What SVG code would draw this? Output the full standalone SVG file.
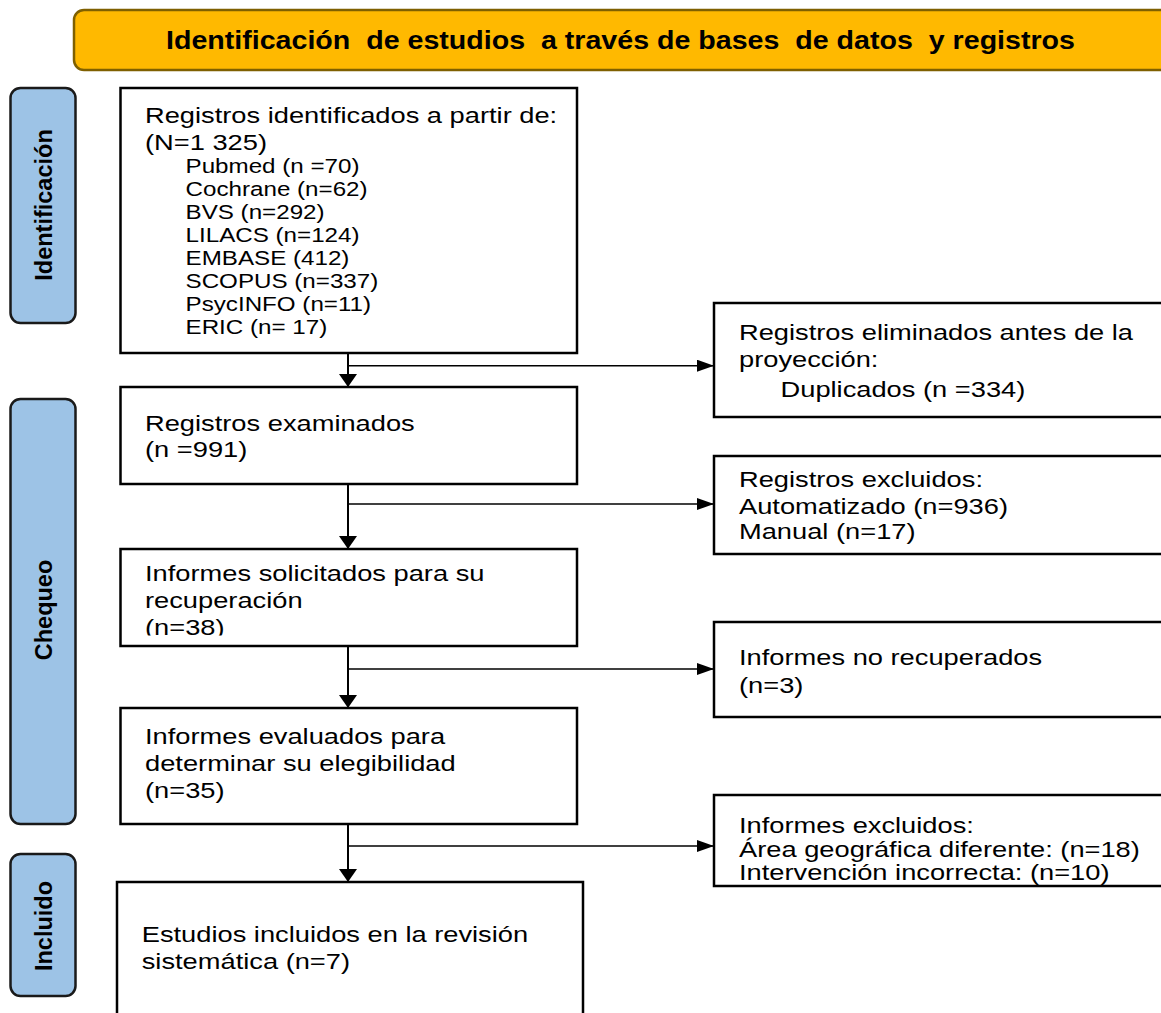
<svg xmlns="http://www.w3.org/2000/svg" width="1161" height="1013" viewBox="0 0 1161 1013">
<style>
.t{font-family:"Liberation Sans",Arial,sans-serif;font-size:22px;fill:#000}
.s{font-size:19.5px}
.lab{font-family:"Liberation Sans",Arial,sans-serif;font-weight:bold;font-size:23.5px;text-anchor:middle;fill:#000}
.hdr{font-family:"Liberation Sans",Arial,sans-serif;font-weight:bold;font-size:26px;fill:#000;white-space:pre}
.box{fill:#fff;stroke:#000;stroke-width:2.5}
.side{fill:#9DC3E6;stroke:#1a1a1a;stroke-width:2.5}
.v{fill:none;stroke:#000;stroke-width:2;marker-end:url(#ad)}
.h{fill:none;stroke:#000;stroke-width:1.6;marker-end:url(#ar)}
</style>
<defs>
<marker id="ad" markerUnits="userSpaceOnUse" markerWidth="14" markerHeight="18" refX="13" refY="9" orient="auto"><path d="M0,0 L13,9 L0,18 z" fill="#000"/></marker>
<marker id="ar" markerUnits="userSpaceOnUse" markerWidth="18" markerHeight="12" refX="17" refY="6" orient="auto"><path d="M0,0 L17,6 L0,12 z" fill="#000"/></marker>
<clipPath id="c38"><rect x="120" y="549" width="457" height="86.5"/></clipPath>
</defs>
<rect width="1161" height="1013" fill="#fff"/>

<g id="header">
<rect x="74" y="10" width="1120" height="60" rx="10" fill="#FFB900" stroke="#7F6000" stroke-width="2.5"/>
<text class="hdr" x="166" y="49.3" textLength="909" lengthAdjust="spacingAndGlyphs" xml:space="preserve">Identificación  de estudios  a través de bases  de datos  y registros</text>
</g>

<g id="lab-identificacion">
<rect class="side" x="10.5" y="88" width="65" height="235" rx="10"/>
<text class="lab" transform="translate(51.5,205) rotate(-90)">Identificación</text>
</g>
<g id="lab-chequeo">
<rect class="side" x="10.5" y="399" width="65" height="425" rx="10"/>
<text class="lab" transform="translate(51.5,610) rotate(-90)">Chequeo</text>
</g>
<g id="lab-incluido">
<rect class="side" x="10.5" y="854" width="65" height="142" rx="10"/>
<text class="lab" transform="translate(51.5,926) rotate(-90)">Incluido</text>
</g>

<g id="connectors">
<path class="v" d="M348,353 L348,387"/>
<path class="v" d="M348,484 L348,549"/>
<path class="v" d="M348,646 L348,708"/>
<path class="v" d="M348,824 L348,882"/>
<path class="h" d="M348,365.7 L714,365.7"/>
<path class="h" d="M348,504 L714,504"/>
<path class="h" d="M348,669 L714,669"/>
<path class="h" d="M348,846 L714,846"/>
</g>

<g id="n-identificados">
<rect class="box" x="120.5" y="88" width="456.5" height="265"/>
<g transform="translate(145 0) scale(1.24 1)">
<text class="t" x="0" y="123">Registros identificados a partir de:</text>
<text class="t" x="0" y="150">(N=1 325)</text>
<text class="t s" x="32.7" y="173.5">Pubmed (n =70)</text>
<text class="t s" x="32.7" y="196.5">Cochrane (n=62)</text>
<text class="t s" x="32.7" y="219.5">BVS (n=292)</text>
<text class="t s" x="32.7" y="242.5">LILACS (n=124)</text>
<text class="t s" x="32.7" y="265.5">EMBASE (412)</text>
<text class="t s" x="32.7" y="288.5">SCOPUS (n=337)</text>
<text class="t s" x="32.7" y="311.5">PsycINFO (n=11)</text>
<text class="t s" x="32.7" y="334.5">ERIC (n= 17)</text>
</g>
</g>

<g id="n-examinados">
<rect class="box" x="120.5" y="387" width="456.5" height="97"/>
<g transform="translate(145 0) scale(1.24 1)">
<text class="t" x="0" y="430.7">Registros examinados</text>
<text class="t" x="0" y="457">(n =991)</text>
</g>
</g>

<g id="n-solicitados">
<rect class="box" x="120.5" y="549" width="456.5" height="97"/>
<g clip-path="url(#c38)">
<g transform="translate(145 0) scale(1.24 1)">
<text class="t" x="0" y="580.7">Informes solicitados para su</text>
<text class="t" x="0" y="608">recuperación</text>
<text class="t" x="0" y="635">(n=38)</text>
</g>
</g>
</g>

<g id="n-evaluados">
<rect class="box" x="120.5" y="708" width="456.5" height="116"/>
<g transform="translate(145 0) scale(1.24 1)">
<text class="t" x="0" y="744">Informes evaluados para</text>
<text class="t" x="0" y="770.7">determinar su elegibilidad</text>
<text class="t" x="0" y="797.7">(n=35)</text>
</g>
</g>

<g id="n-incluidos">
<rect class="box" x="117" y="882" width="466" height="160"/>
<g transform="translate(141.7 0) scale(1.24 1)">
<text class="t" x="0" y="942">Estudios incluidos en la revisión</text>
<text class="t" x="0" y="969">sistemática (n=7)</text>
</g>
</g>

<g id="n-eliminados">
<rect class="box" x="714" y="303" width="470" height="114"/>
<g transform="translate(739 0) scale(1.24 1)">
<text class="t" x="0" y="340">Registros eliminados antes de la</text>
<text class="t" x="0" y="366.7">proyección:</text>
<text class="t" x="33.5" y="396.7">Duplicados (n =334)</text>
</g>
</g>

<g id="n-excluidos">
<rect class="box" x="714" y="456" width="470" height="98"/>
<g transform="translate(739 0) scale(1.24 1)">
<text class="t" x="0" y="487.3">Registros excluidos:</text>
<text class="t" x="0" y="514">Automatizado (n=936)</text>
<text class="t" x="0" y="539.3">Manual (n=17)</text>
</g>
</g>

<g id="n-norecuperados">
<rect class="box" x="714" y="622" width="470" height="95"/>
<g transform="translate(739 0) scale(1.24 1)">
<text class="t" x="0" y="665">Informes no recuperados</text>
<text class="t" x="0" y="693.3">(n=3)</text>
</g>
</g>

<g id="n-infexcluidos">
<rect class="box" x="714" y="795" width="470" height="91"/>
<g transform="translate(739 0) scale(1.24 1)">
<text class="t" x="0" y="833.3">Informes excluidos:</text>
<text class="t" x="0" y="857.3">Área geográfica diferente: (n=18)</text>
<text class="t" x="0" y="880">Intervención incorrecta: (n=10)</text>
</g>
</g>
</svg>
